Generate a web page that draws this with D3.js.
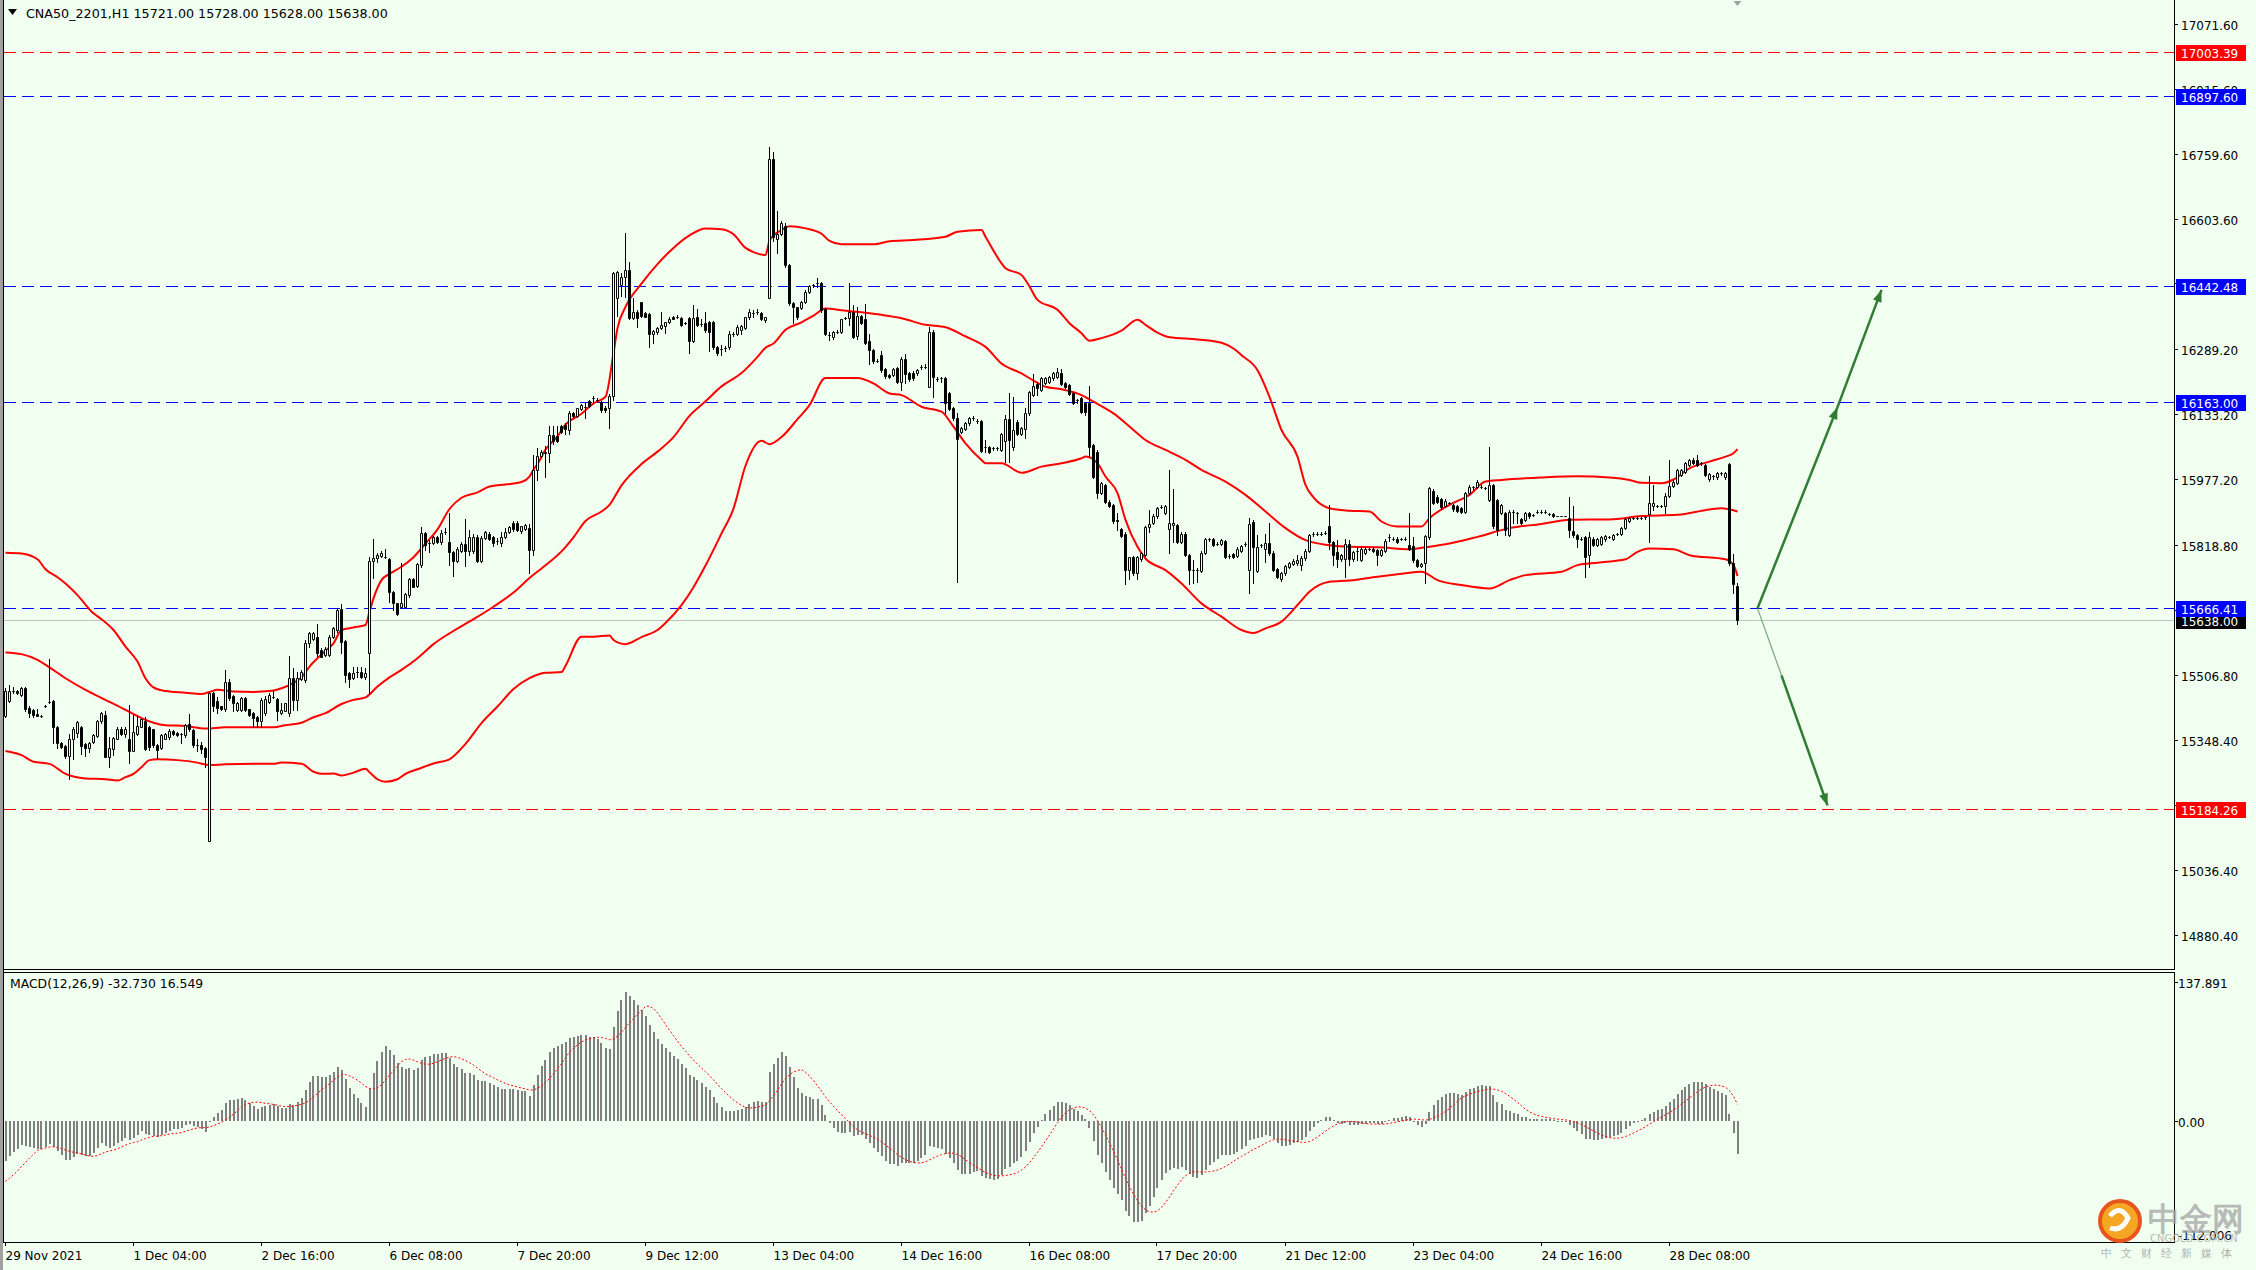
<!DOCTYPE html>
<html><head><meta charset="utf-8">
<script src="https://cdn.jsdelivr.net/npm/d3@7"></script>
<style>
html,body{margin:0;padding:0;background:#F0FFF0;overflow:hidden}
svg{display:block}
text{font-family:"DejaVu Sans",Verdana,sans-serif}
</style></head><body>
<svg id="c" width="2256" height="1270"></svg>
<script>
// ---------- DATA ----------
const symbolTitle = "CNA50_2201,H1  15721.00 15728.00 15628.00 15638.00";
const macdTitle = "MACD(12,26,9) -32.730 16.549";

const opens = [
15407,15444,15468,15468,15458,15474,15427,15422,15413,15407,
15431,15441,15444,15380,15343,15336,15311,15353,15367,15380,
15339,15329,15344,15360,15394,15410,15309,15327,15353,15377,
15365,15353,15324,15365,15381,15396,15381,15375,15337,15329,
15353,15356,15372,15367,15365,15361,15387,15373,15337,15337,
15331,15106,15462,15443,15430,15423,15489,15455,15422,15422,
15451,15423,15415,15404,15394,15414,15442,15454,15448,15414,
15420,15415,15498,15446,15495,15494,15583,15592,15598,15566,
15554,15554,15598,15614,15664,15588,15511,15498,15514,15514,
15502,15558,15781,15786,15792,15790,15784,15705,15678,15670,
15670,15698,15736,15720,15770,15848,15824,15824,15837,15826,
15849,15826,15802,15781,15805,15820,15805,15805,15837,15781,
15836,15846,15837,15829,15824,15837,15850,15872,15872,15853,
15858,15859,15807,16000,16033,16040,16039,16082,16080,16105,
16108,16095,16136,16129,16145,16151,16164,16172,16168,16162,
16149,16148,16177,16413,16443,16463,16480,16364,16380,16402,
16376,16374,16325,16331,16340,16346,16354,16367,16368,16364,
16352,16364,16310,16368,16350,16353,16355,16355,16294,16291,
16293,16294,16327,16325,16336,16340,16366,16377,16378,16377,
16359,16413,16748,16555,16567,16585,16492,16400,16390,16389,
16404,16428,16443,16449,16449,16387,16324,16318,16331,16331,
16365,16365,16378,16321,16370,16361,16308,16288,16262,16275,
16241,16228,16227,16243,16211,16265,16231,16233,16231,16246,
16247,16199,16331,16217,16219,16219,16183,16147,16123,16091,
16097,16111,16123,16117,16117,16055,16055,16051,16051,16047,
16069,16121,16053,16115,16085,16097,16135,16179,16206,16191,
16209,16211,16219,16223,16231,16207,16203,16183,16166,16171,
16161,16159,16059,16043,15943,15963,15923,15915,15879,15856,
15846,15758,15789,15750,15784,15794,15861,15871,15887,15911,
15896,15856,15867,15867,15826,15846,15794,15758,15758,15757,
15800,15832,15832,15822,15822,15828,15792,15797,15792,15805,
15821,15758,15874,15757,15818,15810,15824,15800,15760,15736,
15750,15766,15773,15774,15770,15786,15805,15845,15846,15846,
15848,15864,15826,15802,15784,15784,15821,15784,15805,15782,
15800,15809,15810,15806,15794,15805,15837,15834,15834,15833,
15834,15818,15816,15782,15768,15776,15837,15949,15935,15929,
15912,15919,15915,15912,15907,15899,15944,15957,15959,15959,
15955,15927,15963,15927,15895,15895,15843,15899,15895,15880,
15878,15896,15891,15899,15899,15899,15893,15892,15888,15888,
15888,15883,15853,15842,15834,15837,15794,15834,15818,15821,
15832,15838,15834,15845,15845,15859,15877,15883,15884,15883,
15885,15893,15912,15912,15912,15912,15936,15960,15968,15987,
15995,16011,16024,16023,16015,16011,15976,15984,15981,15991,
15981,16013,15776,15721];

const highs = [
15474,15482,15478,15470,15476,15476,15431,15425,15423,15409,
15433,15544,15446,15382,15345,15338,15365,15380,15396,15382,
15341,15345,15364,15397,15416,15420,15357,15357,15380,15381,
15380,15434,15410,15406,15401,15404,15384,15377,15339,15364,
15367,15375,15374,15369,15367,15389,15411,15375,15351,15345,
15333,15464,15466,15454,15432,15518,15495,15457,15441,15453,
15453,15425,15417,15406,15450,15455,15462,15468,15450,15438,
15439,15551,15522,15514,15518,15590,15610,15610,15628,15570,
15574,15602,15622,15666,15676,15590,15513,15526,15526,15526,
15522,15789,15832,15800,15805,15809,15786,15707,15680,15774,
15702,15738,15740,15774,15861,15850,15830,15839,15839,15854,
15859,15895,15805,15813,15825,15880,15855,15845,15842,15840,
15853,15850,15840,15835,15850,15859,15864,15875,15875,15865,
15870,15870,16035,16052,16046,16056,16105,16105,16104,16108,
16112,16140,16139,16148,16158,16159,16166,16177,16172,16165,
16152,16181,16476,16477,16473,16569,16499,16413,16383,16404,
16378,16376,16335,16342,16378,16356,16368,16369,16371,16366,
16355,16366,16396,16387,16361,16380,16357,16357,16296,16299,
16298,16334,16331,16348,16348,16368,16387,16383,16385,16380,
16368,16775,16763,16621,16598,16592,16494,16402,16392,16406,
16431,16444,16446,16460,16452,16389,16331,16334,16336,16363,
16368,16449,16396,16391,16372,16397,16325,16290,16265,16286,
16243,16230,16244,16247,16271,16278,16234,16236,16242,16251,
16254,16342,16336,16222,16223,16222,16186,16150,16137,16102,
16114,16126,16129,16121,16120,16071,16057,16054,16055,16088,
16131,16185,16175,16118,16102,16147,16190,16230,16211,16222,
16222,16226,16234,16243,16241,16210,16206,16186,16170,16174,
16163,16201,16062,16046,15970,15966,15926,15918,15895,15859,
15849,15790,15792,15792,15801,15865,15903,15892,15910,15915,
15915,16000,15952,15870,15849,15849,15797,15782,15762,15803,
15835,15836,15835,15826,15833,15831,15796,15800,15813,15819,
15825,15883,15878,15842,15822,15845,15871,15803,15763,15753,
15771,15777,15784,15794,15791,15808,15845,15849,15850,15850,
15852,15915,15829,15830,15797,15834,15830,15805,15814,15813,
15813,15812,15813,15809,15809,15832,15845,15838,15837,15836,
15838,15895,15838,15785,15776,15843,15958,15952,15938,15932,
15928,15922,15918,15915,15910,15947,15962,15960,15974,15962,
15958,16055,15966,15930,15918,15898,15902,15903,15899,15883,
15899,15899,15894,15902,15902,15902,15896,15895,15889,15889,
15889,15933,15912,15845,15837,15840,15850,15837,15835,15840,
15843,15841,15845,15848,15862,15884,15886,15886,15887,15886,
15888,15984,15963,15915,15915,15943,16023,15974,16002,16002,
16018,16026,16028,16035,16018,16014,15992,15987,15994,15994,
15995,16016,15797,15728];

const lows = [
15404,15442,15462,15460,15455,15420,15405,15404,15406,15405,
15429,15439,15343,15329,15329,15305,15255,15303,15357,15316,
15311,15321,15341,15357,15391,15308,15285,15313,15352,15361,
15357,15293,15323,15361,15380,15325,15325,15333,15305,15327,
15351,15351,15362,15359,15341,15357,15372,15333,15324,15319,
15284,15106,15420,15415,15422,15418,15446,15418,15418,15420,
15420,15406,15381,15381,15381,15410,15439,15450,15397,15411,
15418,15406,15422,15422,15494,15490,15574,15590,15551,15548,
15551,15551,15594,15610,15558,15490,15478,15495,15502,15498,
15495,15462,15738,15778,15789,15786,15682,15662,15650,15666,
15666,15694,15717,15718,15766,15806,15802,15822,15824,15822,
15845,15770,15745,15777,15802,15769,15794,15800,15778,15778,
15833,15830,15816,15822,15816,15835,15848,15853,15851,15848,
15855,15751,15794,15975,16030,15983,16018,16061,16065,16088,
16086,16086,16126,16127,16143,16123,16150,16162,16162,16139,
16139,16099,16168,16370,16417,16415,16361,16361,16342,16368,
16366,16294,16305,16327,16337,16329,16353,16361,16365,16346,
16349,16280,16306,16344,16346,16331,16284,16291,16275,16275,
16284,16291,16320,16323,16325,16338,16363,16366,16374,16360,
16356,16413,16550,16520,16565,16488,16396,16353,16363,16387,
16401,16425,16439,16439,16380,16323,16312,16315,16329,16329,
16362,16348,16317,16314,16350,16301,16254,16257,16259,16234,
16221,16219,16224,16207,16191,16209,16214,16216,16228,16241,
16243,16199,16175,16212,16211,16135,16142,16120,15730,16088,
16095,16108,16120,16113,16042,16043,16040,16048,16047,16044,
16019,16019,16047,16082,16082,16075,16132,16177,16179,16188,
16206,16208,16216,16219,16203,16196,16179,16158,16161,16136,
16131,16032,15980,15931,15940,15920,15909,15872,15855,15837,
15725,15736,15747,15736,15781,15791,15850,15868,15884,15907,
15893,15800,15826,15823,15823,15791,15725,15726,15730,15754,
15797,15828,15815,15818,15819,15786,15788,15787,15789,15802,
15817,15702,15726,15754,15814,15778,15794,15755,15738,15733,
15747,15763,15770,15771,15758,15783,15802,15841,15842,15842,
15844,15810,15770,15766,15781,15741,15770,15781,15782,15779,
15797,15806,15802,15770,15791,15802,15829,15830,15823,15830,
15830,15806,15778,15765,15765,15726,15834,15917,15920,15906,
15909,15916,15901,15898,15896,15896,15941,15954,15956,15956,
15952,15925,15860,15843,15892,15843,15840,15871,15871,15869,
15875,15884,15888,15896,15896,15896,15890,15885,15887,15887,
15887,15838,15837,15814,15831,15742,15766,15815,15815,15818,
15829,15835,15831,15842,15842,15856,15874,15880,15881,15880,
15882,15826,15903,15909,15909,15895,15935,15957,15965,15984,
15992,16008,16013,16008,16012,15984,15973,15976,15978,15988,
15978,15770,15704,15628];

const closes = [
15468,15468,15468,15463,15474,15423,15415,15409,15407,15407,
15431,15442,15381,15341,15333,15311,15353,15375,15393,15336,
15330,15343,15361,15396,15414,15309,15329,15355,15377,15365,
15377,15324,15368,15383,15399,15328,15333,15337,15325,15361,
15364,15372,15365,15361,15363,15385,15375,15337,15337,15327,
15308,15462,15431,15427,15425,15489,15450,15439,15439,15451,
15422,15410,15402,15394,15446,15447,15457,15454,15418,15422,
15438,15498,15446,15498,15514,15582,15606,15606,15558,15550,
15568,15598,15618,15662,15586,15506,15495,15511,15513,15502,
15510,15780,15786,15794,15800,15790,15706,15678,15652,15680,
15701,15736,15718,15772,15848,15818,15824,15837,15826,15848,
15849,15802,15781,15810,15822,15805,15837,15837,15781,15836,
15850,15833,15824,15829,15837,15850,15861,15856,15854,15863,
15867,15807,16000,16033,16043,16041,16082,16069,16069,16091,
16097,16136,16129,16147,16155,16150,16153,16172,16167,16142,
16142,16177,16473,16475,16463,16479,16364,16380,16364,16370,
16367,16325,16333,16340,16348,16354,16363,16363,16368,16348,
16352,16310,16364,16348,16350,16336,16331,16294,16280,16291,
16293,16325,16327,16342,16346,16366,16380,16377,16378,16363,
16366,16748,16559,16567,16592,16492,16400,16390,16366,16404,
16428,16441,16443,16449,16383,16325,16324,16331,16331,16361,
16365,16378,16318,16370,16353,16305,16288,16260,16262,16239,
16224,16222,16241,16211,16265,16230,16217,16219,16239,16246,
16247,16331,16222,16217,16219,16159,16145,16123,16073,16099,
16111,16123,16123,16117,16045,16055,16043,16051,16051,16085,
16121,16071,16095,16085,16099,16135,16187,16201,16195,16219,
16219,16223,16231,16235,16206,16199,16182,16161,16166,16139,
16139,16055,15983,15943,15967,15923,15912,15875,15877,15840,
15758,15789,15750,15789,15798,15862,15869,15889,15907,15911,
15912,15871,15871,15826,15846,15794,15758,15758,15758,15800,
15832,15832,15818,15822,15830,15789,15792,15790,15810,15816,
15821,15870,15814,15814,15818,15824,15800,15758,15741,15750,
15768,15774,15781,15782,15788,15805,15842,15845,15846,15846,
15848,15826,15794,15784,15794,15821,15784,15802,15805,15810,
15810,15809,15805,15794,15806,15829,15837,15834,15826,15833,
15834,15808,15782,15768,15773,15840,15955,15920,15923,15909,
15925,15919,15904,15901,15899,15944,15959,15957,15971,15959,
15955,15963,15863,15855,15915,15855,15899,15899,15895,15872,
15896,15887,15891,15899,15899,15899,15893,15888,15888,15888,
15888,15855,15842,15834,15834,15790,15837,15818,15832,15837,
15840,15838,15842,15845,15859,15881,15883,15883,15884,15883,
15885,15919,15919,15912,15912,15936,15960,15971,15999,15999,
16015,16023,16016,16011,16015,15987,15989,15984,15991,15991,
15992,15776,15725,15638];

// Bollinger bands: [bar index, price]
const upperBand = [[0,15800],[4,15798],[8,15784],[10,15760],[13,15741],[15,15726],[18,15698],[22,15654],[24,15640],[27,15614],[30,15574],[33,15538],[35,15498],[37,15476],[40,15467],[45,15463],[49,15460],[51,15465],[53,15470],[57,15466],[62,15465],[66,15467],[69,15474],[72,15487],[74,15500],[76,15526],[78,15546],[80,15564],[82,15582],[84,15614],[87,15620],[90,15626],[91,15658],[92,15690],[94,15734],[96,15749],[99,15766],[102,15789],[105,15822],[108,15856],[111,15905],[114,15932],[118,15945],[121,15959],[125,15964],[129,15970],[131,15983],[132,16000],[133,16013],[135,16048],[138,16080],[140,16108],[144,16134],[147,16159],[150,16175],[152,16280],[153,16340],[155,16391],[159,16447],[163,16494],[167,16533],[171,16563],[175,16580],[179,16578],[182,16566],[185,16533],[187,16523],[190,16516],[191,16550],[194,16576],[196,16585],[200,16580],[204,16567],[206,16550],[209,16542],[217,16542],[221,16549],[227,16552],[235,16560],[238,16572],[244,16576],[245,16560],[249,16496],[250,16484],[254,16468],[256,16440],[258,16408],[263,16384],[266,16352],[269,16328],[271,16310],[274,16316],[279,16334],[283,16360],[285,16348],[288,16329],[291,16318],[298,16313],[304,16305],[307,16291],[309,16275],[313,16239],[316,16175],[319,16095],[323,16031],[325,15963],[327,15933],[331,15907],[336,15901],[341,15899],[344,15875],[348,15863],[354,15863],[356,15883],[361,15915],[366,15939],[370,15971],[374,15975],[384,15981],[393,15984],[401,15981],[406,15975],[409,15968],[414,15967],[417,15976],[421,16003],[426,16019],[430,16031],[432,16039],[433,16049]];
const middleBand = [[0,15560],[4,15556],[8,15542],[11,15524],[15,15498],[20,15470],[25,15446],[30,15422],[34,15402],[37,15391],[40,15385],[45,15383],[50,15377],[55,15380],[62,15380],[67,15380],[70,15385],[74,15391],[77,15404],[80,15414],[84,15436],[87,15446],[90,15452],[93,15478],[96,15500],[99,15518],[103,15546],[107,15580],[111,15606],[117,15640],[122,15670],[127,15704],[131,15739],[134,15762],[139,15803],[142,15837],[145,15876],[149,15899],[151,15915],[154,15962],[159,16013],[163,16043],[167,16078],[171,16129],[175,16164],[179,16200],[184,16232],[188,16271],[190,16293],[192,16303],[195,16336],[199,16354],[202,16370],[205,16387],[209,16383],[214,16378],[219,16372],[224,16364],[230,16348],[235,16342],[240,16320],[245,16295],[249,16255],[254,16231],[257,16214],[260,16199],[264,16193],[269,16179],[272,16163],[277,16135],[282,16095],[285,16071],[290,16047],[295,16023],[299,15999],[305,15971],[310,15939],[315,15899],[320,15859],[325,15830],[331,15818],[336,15814],[343,15813],[351,15808],[355,15813],[361,15822],[368,15838],[376,15859],[384,15869],[391,15879],[401,15880],[409,15888],[418,15891],[426,15904],[429,15907],[433,15899]];
const lowerBand = [[0,15323],[4,15313],[7,15297],[11,15292],[15,15268],[20,15257],[25,15255],[28,15252],[30,15260],[32,15268],[34,15284],[36,15301],[38,15303],[43,15301],[48,15295],[51,15289],[55,15291],[62,15292],[67,15292],[69,15295],[74,15292],[77,15273],[79,15268],[82,15269],[84,15264],[87,15271],[90,15280],[91,15272],[93,15255],[95,15249],[98,15255],[100,15268],[103,15279],[107,15293],[111,15303],[115,15340],[119,15390],[123,15430],[127,15472],[131,15498],[135,15511],[139,15513],[140,15528],[144,15598],[147,15598],[151,15601],[152,15590],[155,15580],[159,15597],[163,15614],[165,15631],[169,15674],[172,15717],[175,15769],[179,15846],[182,15906],[185,16009],[189,16069],[191,16061],[194,16078],[198,16121],[201,16155],[205,16220],[213,16220],[217,16207],[221,16183],[224,16179],[229,16151],[234,16139],[237,16103],[240,16063],[244,16023],[245,16015],[249,16015],[254,15992],[259,16007],[264,16015],[269,16027],[270,16031],[273,16015],[275,15983],[278,15943],[280,15879],[283,15814],[285,15786],[290,15758],[294,15726],[299,15678],[304,15646],[309,15614],[312,15607],[315,15618],[319,15634],[323,15674],[326,15706],[331,15730],[336,15733],[343,15742],[349,15749],[354,15754],[358,15734],[364,15722],[371,15714],[376,15734],[380,15746],[389,15754],[393,15770],[398,15776],[405,15784],[408,15802],[411,15810],[417,15808],[421,15794],[430,15784],[432,15770],[433,15744]];

// Horizontal levels
const levelPrices = [17003.39, 16897.60, 16442.48, 16163.00, 15666.41, 15184.26];
const levelColors = ["#FF0000","#0000FF","#0000FF","#0000FF","#0000FF","#FF0000"];
const bidPrice = 15638.00;

// Axis labels
const priceTicks = [17071.60,16915.60,16759.60,16603.60,16447.60,16289.20,16133.20,15977.20,15818.80,15662.80,15506.80,15348.40,15192.40,15036.40,14880.40];
const timeLabels = ["29 Nov 2021","1 Dec 04:00","2 Dec 16:00","6 Dec 08:00","7 Dec 20:00","9 Dec 12:00","13 Dec 04:00","14 Dec 16:00","16 Dec 08:00","17 Dec 20:00","21 Dec 12:00","23 Dec 04:00","24 Dec 16:00","28 Dec 08:00"];
const timeLabelBars = [0,32,64,96,128,160,192,224,256,288,320,352,384,416];
const macdTicks = [137.891, 0, -112.006];
const macdTickText = ["137.891","0.00","-112.006"];

// MACD(12,26,9) state before the first visible bar
const macdSeed = {ema12: 15440, ema26: 15485, priorMacd: -62};

// Hand-drawn arrows: [bar, price] points
const arrowUp1 = [[438,15666],[458,16150]];
const arrowUp2 = [[458,16150],[469,16432]];
const arrowDownThin = [[438,15666],[444,15505]];
const arrowDown = [[444,15505],[455.5,15192]];

// ---------- DRAW ----------
const W=2256, H=1270, BG="#F0FFF0";
const P = {left:4, right:2174, top:1, bottom:969};
const M = {top:972, bottom:1242};
const svg = d3.select("#c");
svg.append("rect").attr("width",W).attr("height",H).attr("fill",BG);

const n = closes.length;
const x = d3.scaleLinear().domain([0, n-1]).range([5.5, 5.5 + 4*(n-1)]);
const y = d3.scaleLinear().domain([14801.0, 17126.9]).range([968, 1]);
const ym = d3.scaleLinear().domain([-112.006, 137.891]).range([1234.3, 982.3]);

const defs = svg.append("defs");
defs.append("clipPath").attr("id","cpMain").append("rect")
  .attr("x",P.left).attr("y",P.top).attr("width",P.right-P.left).attr("height",P.bottom-P.top);
defs.append("clipPath").attr("id","cpMacd").append("rect")
  .attr("x",P.left).attr("y",M.top+1).attr("width",P.right-P.left).attr("height",M.bottom-M.top-1);

const main = svg.append("g").attr("clip-path","url(#cpMain)");

// level lines
levelPrices.forEach((p,k)=>{
  const yy = Math.round(y(p))+0.5;
  main.append("line").attr("x1",P.left).attr("x2",P.right).attr("y1",yy).attr("y2",yy)
    .attr("stroke",levelColors[k]).attr("stroke-width",1).attr("stroke-dasharray","12,6");
});
{
  const yy = Math.round(y(bidPrice))+0.5;
  main.append("line").attr("x1",P.left).attr("x2",P.right).attr("y1",yy).attr("y2",yy)
    .attr("stroke","#C0C0C0").attr("stroke-width",1);
}

// bands
const bandLine = d3.line().x(d=>x(d[0])).y(d=>y(d[1])).curve(d3.curveMonotoneX);
[upperBand, middleBand, lowerBand].forEach(b=>{
  main.append("path").attr("d",bandLine(b)).attr("fill","none")
    .attr("stroke","#FF0000").attr("stroke-width",2);
});

// candles
const cg = main.append("g");
for (let i=0;i<n;i++){
  const cx = x(i);
  cg.append("line").attr("x1",cx).attr("x2",cx)
    .attr("y1",Math.round(y(highs[i]))).attr("y2",Math.round(y(lows[i]))+1)
    .attr("stroke","#000").attr("stroke-width",1);
  const top = Math.round(y(Math.max(opens[i],closes[i])))+0.5;
  const bot = Math.round(y(Math.min(opens[i],closes[i])))+0.5;
  const bull = closes[i] >= opens[i];
  const xl = cx-1, xr = cx+1;
  cg.append("path").attr("d",`M${xl},${top}H${xr}V${bot}H${xl}Z`)
    .attr("fill", bull ? BG : "#000").attr("stroke","#000").attr("stroke-width",1);
}

// arrows
const aLine = d3.line().x(d=>x(d[0])).y(d=>y(d[1]));
function arrowHead(pts, color){
  const a = pts[pts.length-2], b = pts[pts.length-1];
  const x1=x(a[0]), y1=y(a[1]), x2=x(b[0]), y2=y(b[1]);
  const ang = Math.atan2(y2-y1, x2-x1), L=12, Wd=4.5;
  const bx = x2 - L*Math.cos(ang), by = y2 - L*Math.sin(ang);
  const px = -Math.sin(ang)*Wd, py = Math.cos(ang)*Wd;
  main.append("path").attr("d",`M${x2},${y2}L${bx+px},${by+py}L${bx-px},${by-py}Z`).attr("fill",color);
}
const GREEN = "#2E7D32";
main.append("path").attr("d",aLine(arrowDownThin)).attr("stroke","#7FA87F").attr("stroke-width",1.2).attr("fill","none");
[arrowUp1, arrowUp2, arrowDown].forEach(a=>{
  main.append("path").attr("d",aLine(a)).attr("stroke",GREEN).attr("stroke-width",2.5).attr("fill","none");
  arrowHead(a, GREEN);
});

// MACD computation (standard MT4 definition: EMA12-EMA26, signal = SMA9)
const macd = [], signal = [];
let e12 = macdSeed.ema12, e26 = macdSeed.ema26;
const k12 = 2/13, k26 = 2/27;
for (let i=0;i<n;i++){
  e12 = e12 + k12*(closes[i]-e12);
  e26 = e26 + k26*(closes[i]-e26);
  macd.push(e12-e26);
}
for (let i=0;i<n;i++){
  let s=0;
  for (let j=i-8;j<=i;j++) s += j>=0 ? macd[j] : macdSeed.priorMacd;
  signal.push(s/9);
}
const mg = svg.append("g").attr("clip-path","url(#cpMacd)");
const y0 = Math.round(ym(0));
for (let i=0;i<n;i++){
  const yv = Math.round(ym(macd[i]));
  mg.append("rect").attr("x",Math.round(x(i))-1).attr("width",2)
    .attr("y",Math.min(y0,yv)).attr("height",Math.max(1,Math.abs(yv-y0)))
    .attr("fill","#808080");
}
mg.append("path").attr("d",d3.line().x((d,i)=>x(i)).y(d=>ym(d))(signal))
  .attr("fill","none").attr("stroke","#FF0000").attr("stroke-width",1).attr("stroke-dasharray","2,2");

// ---------- FRAME & AXES ----------
const fr = svg.append("g").attr("stroke","#000").attr("stroke-width",1);
svg.append("rect").attr("x",0).attr("y",0).attr("width",3).attr("height",H).attr("fill","#A0A0A0");
fr.append("line").attr("x1",3.5).attr("x2",3.5).attr("y1",0).attr("y2",M.bottom);
fr.append("line").attr("x1",P.right+0.5).attr("x2",P.right+0.5).attr("y1",0).attr("y2",P.bottom+0.5);
fr.append("line").attr("x1",P.right+0.5).attr("x2",P.right+0.5).attr("y1",M.top).attr("y2",M.bottom+0.5);
fr.append("line").attr("x1",3).attr("x2",P.right+1).attr("y1",P.bottom+0.5).attr("y2",P.bottom+0.5);
fr.append("line").attr("x1",3).attr("x2",P.right+1).attr("y1",M.top+0.5).attr("y2",M.top+0.5);
fr.append("line").attr("x1",3).attr("x2",P.right+1).attr("y1",M.bottom+0.5).attr("y2",M.bottom+0.5);

// price ticks (labels hidden completely by a level box are not drawn, as in the reference)
const boxPrices = levelPrices.concat([bidPrice]);
priceTicks.forEach(p=>{
  const yy = Math.round(y(p))+0.5;
  fr.append("line").attr("x1",P.right).attr("x2",P.right+4).attr("y1",yy).attr("y2",yy);
  const covered = boxPrices.some(b=>Math.abs(y(b)-y(p))<3);
  if (!covered)
    svg.append("text").attr("x",2181).attr("y",yy+5).attr("font-size",12).attr("fill","#000").text(p.toFixed(2));
});
// level label boxes
function priceBox(p, fill){
  const yy = Math.round(y(p));
  svg.append("rect").attr("x",2176).attr("y",yy-7).attr("width",70).attr("height",16).attr("fill",fill);
  svg.append("text").attr("x",2181).attr("y",yy+5.5).attr("font-size",12).attr("fill","#FFF").text(p.toFixed(2));
}
priceBox(bidPrice, "#000");
levelPrices.forEach((p,k)=>priceBox(p, levelColors[k]));

// MACD axis
macdTicks.forEach((v,k)=>{
  const yy = Math.round(ym(v))+0.5;
  fr.append("line").attr("x1",P.right).attr("x2",P.right+4).attr("y1",yy).attr("y2",yy);
  svg.append("text").attr("x",2178).attr("y",yy+5).attr("font-size",12).attr("fill","#000").text(macdTickText[k]);
});

// time axis
timeLabelBars.forEach((b,k)=>{
  const xx = Math.round(x(b))-0.5;
  fr.append("line").attr("x1",xx).attr("x2",xx).attr("y1",M.bottom).attr("y2",M.bottom+4);
  svg.append("text").attr("x",xx).attr("y",1260).attr("font-size",12).attr("fill","#000").text(timeLabels[k]);
});

// titles
svg.append("path").attr("d","M8,9L17,9L12.5,15Z").attr("fill","#000");
svg.append("text").attr("x",26).attr("y",18).attr("font-size",12.7).attr("fill","#000").text(symbolTitle);
svg.append("text").attr("x",10).attr("y",988).attr("font-size",12.4).attr("fill","#000").text(macdTitle);

// shift marker
svg.append("path").attr("d",`M${x(n-1)-4},1L${x(n-1)+4},1L${x(n-1)},6Z`).attr("fill","#A0A0A0");

// watermark logo
const lg = svg.append("g");
lg.append("circle").attr("cx",2120).attr("cy",1221).attr("r",20).attr("fill","#F5A623");
lg.append("circle").attr("cx",2120).attr("cy",1221).attr("r",20).attr("fill","none").attr("stroke","#E8541E").attr("stroke-width",4);
lg.append("path").attr("d","M2110,1216 q10,-12 18,2 q-6,14 -18,10").attr("fill","none").attr("stroke","#FFFFFF").attr("stroke-width",5);
lg.append("text").attr("x",2148).attr("y",1230).attr("font-size",32).attr("font-weight","bold")
  .attr("font-family","Noto Sans CJK SC").attr("fill","#A8A8A8").attr("fill-opacity",0.8).text("中金网");
lg.append("text").attr("x",2150).attr("y",1242).attr("font-size",10).attr("fill","#B8B8B8").text("CNGOLD.COM.CN");
lg.append("text").attr("x",2101).attr("y",1257).attr("font-size",11).attr("letter-spacing","9px")
  .attr("font-family","Noto Sans CJK SC").attr("fill","#B0B0B0").text("中文财经新媒体");
</script></body></html>
